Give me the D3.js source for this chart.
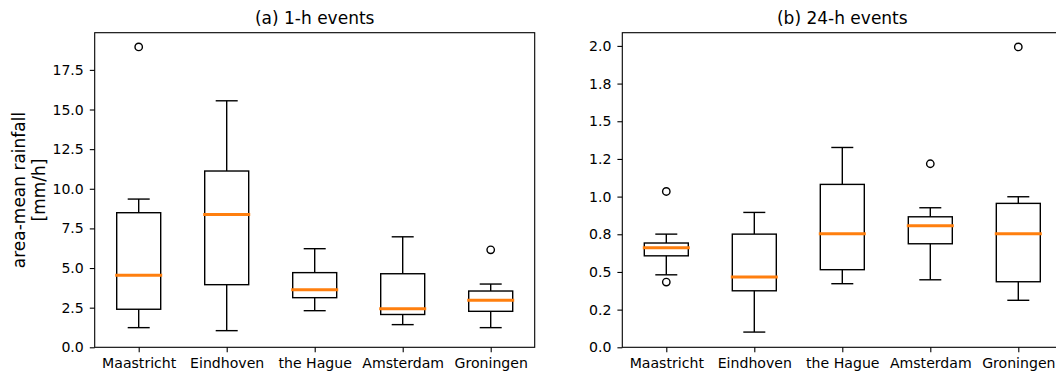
<!DOCTYPE html>
<html>
<head>
<meta charset="utf-8">
<script src="https://cdn.jsdelivr.net/npm/d3@7"></script>
<style>
  html, body { margin: 0; padding: 0; background: #fff; }
  svg { display: block; }
  text { font-family: "DejaVu Sans", sans-serif; fill: #000; }
</style>
</head>
<body>
<svg id="chart" width="1056" height="375"></svg>
<script>
// ---- data ----
const categories = ["Maastricht", "Eindhoven", "the Hague", "Amsterdam", "Groningen"];

// (a) 1-h events
const lo1h  = [1.24, 1.05, 2.31, 1.43, 1.24];
const q1_1h = [2.40, 3.95, 3.13, 2.07, 2.27];
const med1h = [4.54, 8.37, 3.63, 2.43, 2.97];
const q3_1h = [8.49, 11.12, 4.71, 4.64, 3.55];
const hi1h  = [9.35, 15.55, 6.22, 6.97, 3.99];
const out1h = [[18.95], [], [], [], [6.15]];
const ticks1h = [0, 2.5, 5, 7.5, 10, 12.5, 15, 17.5];
const tickLabels1h = ["0.0", "2.5", "5.0", "7.5", "10.0", "12.5", "15.0", "17.5"];

// (b) 24-h events
const lo24h  = [0.481, 0.101, 0.422, 0.448, 0.312];
const q1_24h = [0.607, 0.375, 0.515, 0.687, 0.435];
const med24h = [0.661, 0.466, 0.753, 0.806, 0.753];
const q3_24h = [0.692, 0.751, 1.081, 0.866, 0.955];
const hi24h  = [0.751, 0.895, 1.326, 0.926, 0.999];
const out24h = [[1.034, 0.433], [], [], [1.218], [1.993]];
const ticks24h = [0, 0.25, 0.5, 0.75, 1.0, 1.25, 1.5, 1.75, 2.0];
const tickLabels24h = ["0.0", "0.2", "0.5", "0.8", "1.0", "1.2", "1.5", "1.8", "2.0"];

const titles = ["(a) 1-h events", "(b) 24-h events"];
const yLabelLines = ["area-mean rainfall", "[mm/h]"];

// ---- layout ----
const svg = d3.select("#chart");
const plotTop = 32.7, plotBottom = 347.3;
const panels = [
  { x0: 94.7, x1: 534.7, lo: lo1h, q1: q1_1h, med: med1h, q3: q3_1h, hi: hi1h, out: out1h,
    ticks: ticks1h, labels: tickLabels1h, title: titles[0] },
  { x0: 622.3, x1: 1062.3, lo: lo24h, q1: q1_24h, med: med24h, q3: q3_24h, hi: hi24h, out: out24h,
    ticks: ticks24h, labels: tickLabels24h, title: titles[1] }
];

const tickLen = 4.9;
const tickFont = 14.1, titleFont = 17;

panels.forEach(p => {
  const allVals = [].concat(p.lo, p.hi, ...p.out);
  const dmax = d3.max(allVals), dmin = d3.min(allVals);
  const ymax = dmax + 0.05 * (dmax - dmin);
  const y = d3.scaleLinear().domain([0, ymax]).range([plotBottom, plotTop]);
  const x = d3.scaleLinear().domain([0.5, categories.length + 0.5]).range([p.x0, p.x1]);
  const unit = x(1) - x(0);
  const boxW = 0.5 * unit, capW = 0.25 * unit;

  const g = svg.append("g");

  // y axis
  const yAxis = d3.axisLeft(y).tickValues(p.ticks)
    .tickFormat((d, i) => p.labels[i]).tickSize(tickLen).tickPadding(6);
  const ya = g.append("g").attr("transform", `translate(${p.x0},0)`).call(yAxis);
  ya.select(".domain").remove();
  ya.selectAll("line").attr("stroke", "#000").attr("stroke-width", 1.1);
  ya.selectAll("text").attr("font-size", tickFont).attr("font-family", "DejaVu Sans").attr("fill", "#000");

  // x axis
  const xAxis = d3.axisBottom(x).tickValues(categories.map((c, i) => i + 1))
    .tickFormat((d, i) => categories[i]).tickSize(tickLen).tickPadding(6);
  const xa = g.append("g").attr("transform", `translate(0,${plotBottom})`).call(xAxis);
  xa.select(".domain").remove();
  xa.selectAll("line").attr("stroke", "#000").attr("stroke-width", 1.1);
  xa.selectAll("text").attr("font-size", tickFont).attr("font-family", "DejaVu Sans").attr("fill", "#000");

  // boxes
  categories.forEach((c, i) => {
    const cx = x(i + 1);
    const bg = g.append("g").attr("stroke", "#000").attr("stroke-width", 1.4).attr("fill", "none");
    // whiskers
    bg.append("line").attr("x1", cx).attr("x2", cx).attr("y1", y(p.q1[i])).attr("y2", y(p.lo[i]));
    bg.append("line").attr("x1", cx).attr("x2", cx).attr("y1", y(p.q3[i])).attr("y2", y(p.hi[i]));
    // caps
    bg.append("line").attr("x1", cx - capW / 2).attr("x2", cx + capW / 2).attr("y1", y(p.lo[i])).attr("y2", y(p.lo[i]));
    bg.append("line").attr("x1", cx - capW / 2).attr("x2", cx + capW / 2).attr("y1", y(p.hi[i])).attr("y2", y(p.hi[i]));
    // box
    bg.append("rect").attr("x", cx - boxW / 2).attr("width", boxW)
      .attr("y", y(p.q3[i])).attr("height", y(p.q1[i]) - y(p.q3[i]));
    // median
    g.append("line").attr("x1", cx - boxW / 2).attr("x2", cx + boxW / 2)
      .attr("y1", y(p.med[i])).attr("y2", y(p.med[i]))
      .attr("stroke", "#ff7f0e").attr("stroke-width", 3).attr("stroke-linecap", "square");
    // outliers
    p.out[i].forEach(v => {
      g.append("circle").attr("cx", cx).attr("cy", y(v)).attr("r", 3.7)
        .attr("fill", "none").attr("stroke", "#000").attr("stroke-width", 1.4);
    });
  });

  // frame
  g.append("rect").attr("x", p.x0).attr("y", plotTop).attr("width", p.x1 - p.x0).attr("height", plotBottom - plotTop)
    .attr("fill", "none").attr("stroke", "#000").attr("stroke-width", 1.1);

  // title
  g.append("text").attr("x", (p.x0 + p.x1) / 2).attr("y", 23.5).attr("text-anchor", "middle")
    .attr("font-size", titleFont).text(p.title);
});

// y label (two lines)
const ylab = svg.append("g").attr("transform", `translate(0,${(plotTop + plotBottom) / 2})`);
[25, 44.5].forEach((bx, i) => {
  ylab.append("text").attr("transform", `translate(${bx},0) rotate(-90)`)
    .attr("text-anchor", "middle").attr("font-size", titleFont).text(yLabelLines[i]);
});
</script>
</body>
</html>
